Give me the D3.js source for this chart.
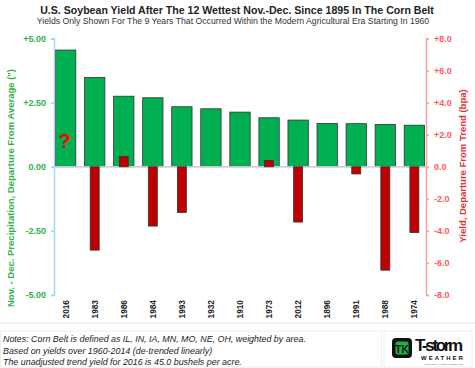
<!DOCTYPE html>
<html>
<head>
<meta charset="utf-8">
<script src="https://cdn.jsdelivr.net/npm/d3@7"></script>
<style>
  body { margin: 0; background: #fff; }
  svg { font-family: "Liberation Sans", Arial, sans-serif; display: block; }
</style>
</head>
<body>
<div id="chart"></div>
<script>
var years = ["2016", "1983", "1986", "1984", "1993", "1932", "1910", "1973", "2012", "1896", "1991", "1988", "1974"];
var precip = [4.55, 3.48, 2.75, 2.69, 2.34, 2.26, 2.13, 1.91, 1.82, 1.69, 1.68, 1.65, 1.62];
var yieldDep = [null, -5.2, 0.65, -3.7, -2.85, null, null, 0.4, -3.45, null, -0.45, -6.45, -4.1];
var leftTicks = [5, 2.5, 0, -2.5, -5];
var rightTicks = [8, 6, 4, 2, 0, -2, -4, -6, -8];
var notes = [
  "Notes: Corn Belt is defined as IL, IN, IA, MN, MO, NE, OH, weighted by area.",
  "Based on yields over 1960-2014 (de-trended linearly)",
  "The unadjusted trend yield for 2016 is 45.0 bushels per acre."
];

var width = 475, height = 368,
  plot = { left: 54, right: 426, top: 38.5, bottom: 295 };

var svg = d3.select("#chart").append("svg")
  .attr("width", width)
  .attr("height", height);

var x = d3.scaleBand().domain(years).range([plot.left, plot.right]).paddingInner(0.3).paddingOuter(0.05),
  yL = d3.scaleLinear().domain([-5, 5]).range([plot.bottom, plot.top]),
  yR = d3.scaleLinear().domain([-8, 8]).range([plot.bottom, plot.top]);

// titles
svg.append("text").attr("x", 237).attr("y", 13.5).attr("text-anchor", "middle")
  .style("font-size", "10.6px").style("font-weight", "bold").attr("fill", "#222")
  .text("U.S. Soybean Yield After The 12 Wettest Nov.-Dec. Since 1895 In The Corn Belt");
svg.append("text").attr("x", 233).attr("y", 24).attr("text-anchor", "middle")
  .style("font-size", "8.7px").attr("fill", "#333")
  .text("Yields Only Shown For The 9 Years That Occurred Within the Modern Agricultural Era Starting  In 1960");

// green bars
svg.selectAll("rect.precip").data(years).enter().append("rect")
  .attr("class", "precip")
  .attr("x", function (d) { return x(d); })
  .attr("width", x.bandwidth())
  .attr("y", function (d, i) { return yL(Math.max(0, precip[i])); })
  .attr("height", function (d, i) { return Math.abs(yL(precip[i]) - yL(0)); })
  .attr("fill", "#00b050").attr("stroke", "#333").attr("stroke-width", 0.8);

// zero line
svg.append("line").attr("x1", plot.left).attr("x2", plot.right)
  .attr("y1", yL(0)).attr("y2", yL(0))
  .attr("stroke", "#c8c8c8").attr("stroke-width", 1.5);

// red bars
var redW = 9;
svg.selectAll("rect.yield").data(years.filter(function (d, i) { return yieldDep[i] !== null; }))
  .enter().append("rect")
  .attr("class", "yield")
  .attr("x", function (d) { return x(d) + x.bandwidth() / 2 - redW / 2; })
  .attr("width", redW)
  .attr("y", function (d) { var v = yieldDep[years.indexOf(d)]; return yR(Math.max(0, v)); })
  .attr("height", function (d) { var v = yieldDep[years.indexOf(d)]; return Math.abs(yR(v) - yR(0)); })
  .attr("fill", "#c00000").attr("stroke", "#333").attr("stroke-width", 0.8);

// question mark for 2016
svg.append("text").attr("x", x("2016") + x.bandwidth() / 2 - 1).attr("y", yR(1.2))
  .attr("text-anchor", "middle")
  .style("font-size", "20px").style("font-weight", "bold").attr("fill", "#ff0000")
  .text("?");

// left axis
var axL = svg.append("g").attr("transform", "translate(" + plot.left + ",0)")
  .call(d3.axisLeft(yL).tickValues(leftTicks).tickSize(3).tickPadding(5)
    .tickFormat(function (d) { return d > 0 ? "+" + d.toFixed(2) : d.toFixed(2); }));
axL.select(".domain").attr("stroke", "#9fd8f2").attr("stroke-width", 1.5);
axL.selectAll(".tick line").attr("stroke", "#9fd8f2").attr("stroke-width", 1.5);
axL.selectAll(".tick text").attr("fill", "#2fb24a").style("font-size", "9px").style("font-weight", "bold")
  .style("font-family", "Liberation Sans, Arial, sans-serif");

// right axis
var axR = svg.append("g").attr("transform", "translate(" + plot.right + ",0)")
  .call(d3.axisRight(yR).tickValues(rightTicks).tickSize(3).tickPadding(5)
    .tickFormat(function (d) { return d > 0 ? "+" + d.toFixed(1) : d.toFixed(1); }));
axR.select(".domain").attr("stroke", "#ff9f9f").attr("stroke-width", 1.5);
axR.selectAll(".tick line").attr("stroke", "#ff9f9f").attr("stroke-width", 1.5);
axR.selectAll(".tick text").attr("fill", "#ff5a5a").style("font-size", "9px").style("font-weight", "bold")
  .style("font-family", "Liberation Sans, Arial, sans-serif");

// axis titles
svg.append("text").attr("transform", "translate(14,188) rotate(-90)")
  .attr("text-anchor", "middle").style("font-size", "9.5px").style("font-weight", "bold")
  .attr("fill", "#2fb24a").text("Nov. - Dec. Precipitation, Departure From Average (\")");
svg.append("text").attr("transform", "translate(466,166) rotate(-90)")
  .attr("text-anchor", "middle").style("font-size", "9.5px").style("font-weight", "bold")
  .attr("fill", "#e83030").text("Yield, Departure From Trend (bpa)");

// x labels
svg.selectAll("text.year").data(years).enter().append("text")
  .attr("class", "year")
  .attr("transform", function (d) { return "translate(" + (x(d) + x.bandwidth() / 2 + 3) + ",300) rotate(-90)"; })
  .attr("text-anchor", "end")
  .style("font-size", "8.3px").style("font-weight", "bold").attr("fill", "#222")
  .text(function (d) { return d; });

// notes area
svg.append("line").attr("x1", 0).attr("x2", width).attr("y1", 323).attr("y2", 323)
  .attr("stroke", "#e6e6e6").attr("stroke-width", 1);
svg.append("rect").attr("x", 0.5).attr("y", 331).attr("width", 381).attr("height", 36)
  .attr("fill", "none").attr("stroke", "#eeeeee");
svg.selectAll("text.note").data(notes).enter().append("text")
  .attr("class", "note")
  .attr("x", 3).attr("y", function (d, i) { return 342 + i * 11.5; })
  .style("font-size", "8.9px").style("font-style", "italic").attr("fill", "#222")
  .text(function (d) { return d; });

// logo
var logo = svg.append("g").attr("transform", "translate(384,331)");
logo.append("rect").attr("width", 88).attr("height", 36).attr("fill", "#fff").attr("stroke", "#eee");
logo.append("rect").attr("x", 8).attr("y", 7).attr("width", 20).attr("height", 20).attr("rx", 4)
  .attr("fill", "#111");
logo.append("rect").attr("x", 11.5).attr("y", 10.5).attr("width", 13).attr("height", 13).attr("rx", 2)
  .attr("fill", "#1db14b");
logo.append("text").attr("x", 18).attr("y", 21.5).attr("text-anchor", "middle")
  .style("font-size", "10px").style("font-weight", "bold").attr("fill", "#111").text("TK");
logo.append("text").attr("x", 31).attr("y", 20).style("font-size", "17px").style("font-weight", "bold")
  .attr("fill", "#111").attr("textLength", 48).text("T-storm");
logo.append("text").attr("x", 37).attr("y", 28.5).style("font-size", "6px").style("font-weight", "bold")
  .attr("fill", "#111").attr("letter-spacing", "2px").text("WEATHER");
logo.append("text").attr("x", 60).attr("y", 33.5).attr("text-anchor", "middle").style("font-size", "2.5px")
  .attr("fill", "#666").text("Copyright © T-storm Weather, LLC");
</script>
</body>
</html>
